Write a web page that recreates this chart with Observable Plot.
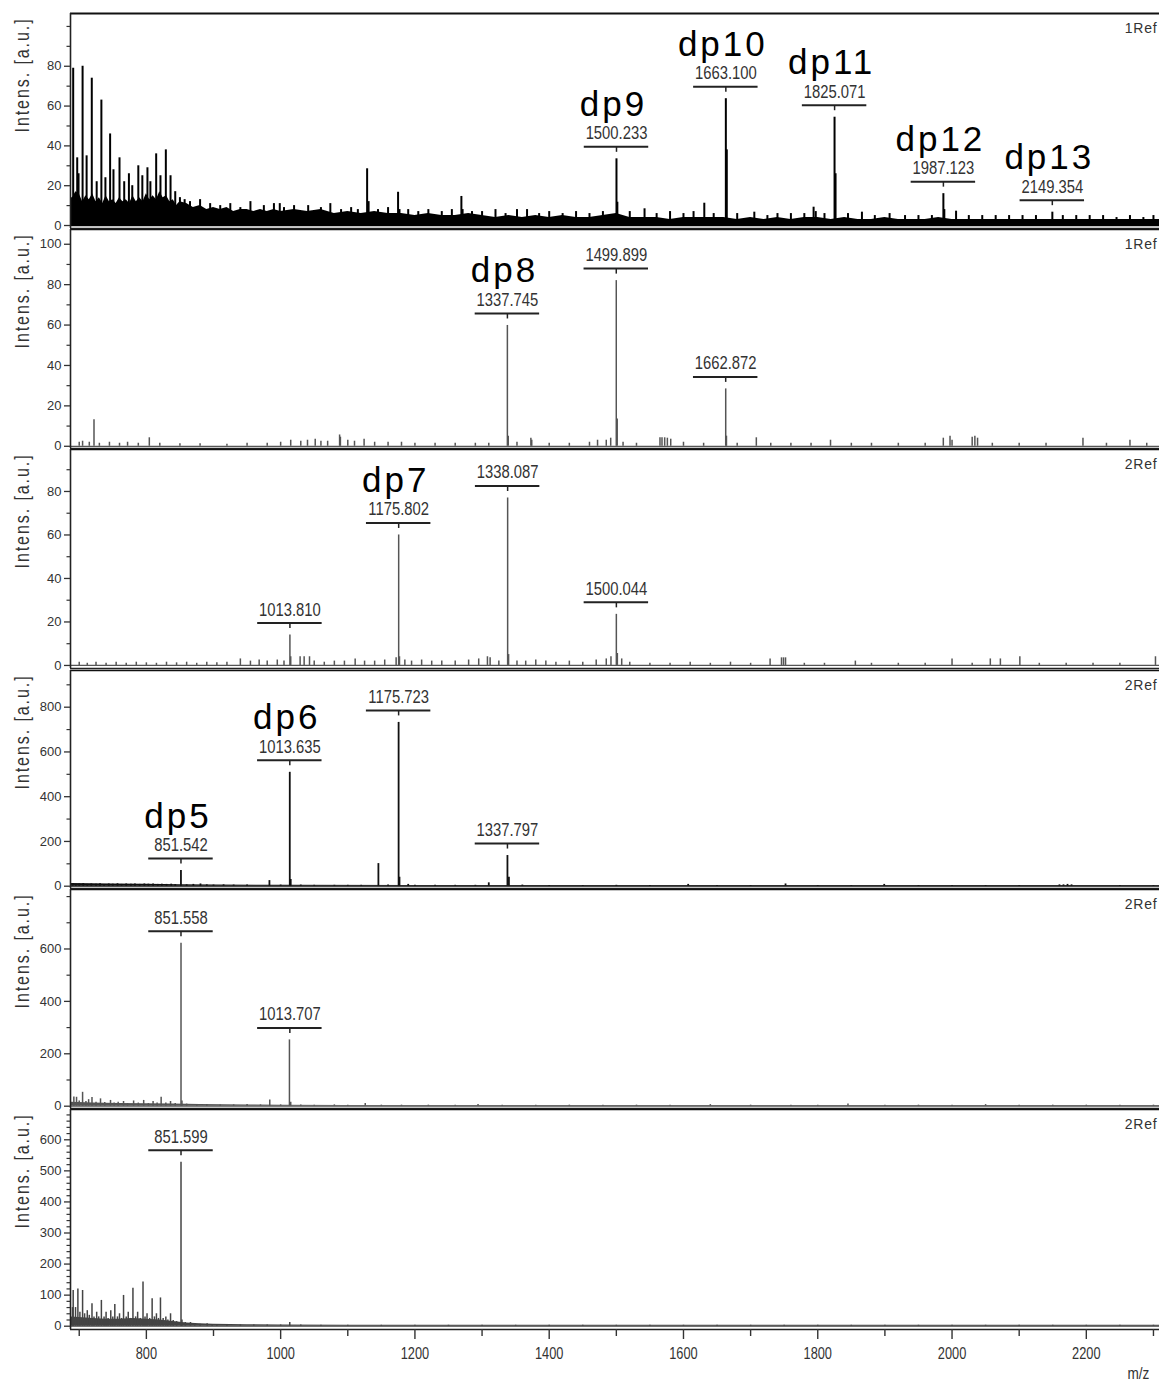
<!DOCTYPE html>
<html><head><meta charset="utf-8">
<script src="https://cdn.jsdelivr.net/npm/d3@7"></script>
<script src="https://cdn.jsdelivr.net/npm/@observablehq/plot@0.6"></script>
<style>
html,body{margin:0;padding:0;background:#fff;}
#chart{position:relative;width:1159px;height:1385px;overflow:hidden;background:#fff;}
#chart svg{position:absolute;left:0;overflow:visible;background:transparent;}
g[aria-label="text"][font-size="35"]{letter-spacing:3px;}
g[aria-label="text"][font-size="20"]{letter-spacing:2.4px;}
g[aria-label="text"][font-size="14"]{letter-spacing:0.8px;}
</style></head><body><div id="chart"></div><script>
// ---------- data ----------
const xDomain = [687, 2309];
const xMajorTicks = [800, 1000, 1200, 1400, 1600, 1800, 2000, 2200];
const xMinorTicks = [700, 900, 1100, 1300, 1500, 1700, 1900, 2100, 2300];
const refNames = ["1Ref", "1Ref", "2Ref", "2Ref", "2Ref", "2Ref"];
const yDomains = [[-1.5, 106.5], [-1.1, 107.3], [-1.4, 99.3], [-10.3, 964], [-8.8, 827], [-10.6, 697.5]];
const yMajorTicks = [
  [0, 20, 40, 60, 80],
  [0, 20, 40, 60, 80, 100],
  [0, 20, 40, 60, 80],
  [0, 200, 400, 600, 800],
  [0, 200, 400, 600],
  [0, 100, 200, 300, 400, 500, 600]
];
const yMinorTicks = [
  [10, 30, 50, 70, 90, 100],
  [10, 30, 50, 70, 90],
  [10, 30, 50, 70, 90],
  [100, 300, 500, 700, 900],
  [100, 300, 500, 700, 800],
  [20, 40, 60, 80, 120, 140, 160, 180, 220, 240, 260, 280, 320, 340, 360, 380, 420, 440, 460, 480, 520, 540, 560, 580, 620, 640, 660, 680]
];

// noise envelopes [m/z, intensity]
const p1Band = [[688,14],[690,14],[695,17],[700,16],[705,12],[710,15],[715,13],[720,16],[725,12],[730,14],[735,11],[740,15],[745,12],[750,13],[755,11],[760,14],[765,12],[770,13],[775,11],[780,15],[785,12],[790,14],[795,12],[800,16],[805,13],[810,15],[815,13],[820,17],[825,14],[830,15],[835,12],[840,13],[845,10],[850,12],[860,11],[870,9],[880,10],[890,8],[900,9],[910,8],[920,9],[930,7],[940,8],[950,8],[960,7],[970,8],[980,7],[990,8],[1000,7],[1020,8],[1040,7],[1060,8],[1080,6],[1100,7],[1120,6],[1140,7],[1160,6],[1180,6],[1200,5],[1220,6],[1240,5],[1260,5],[1280,6],[1300,5],[1320,4],[1340,5],[1360,4],[1380,5],[1400,4],[1420,5],[1440,4],[1460,4],[1480,5],[1500,6],[1520,4],[1540,4],[1560,4],[1580,3],[1600,4],[1620,4],[1640,4],[1660,4],[1680,3],[1700,4],[1720,3],[1740,4],[1760,3],[1780,4],[1800,4],[1820,3],[1840,4],[1860,3],[1880,3],[1900,4],[1920,3],[1940,3],[1960,3],[1980,4],[2000,3],[2020,3],[2040,3],[2060,3],[2080,3],[2100,3],[2120,3],[2140,3],[2160,3],[2180,3],[2200,3],[2220,3],[2240,3],[2260,3],[2280,3],[2309,3]];
const p4Band = [[688,12],[750,10],[800,9],[850,7],[900,5],[1000,4],[1200,3],[2309,3]];
const p5Band = [[688,15],[720,12],[760,10],[800,9],[840,8],[880,6],[950,5],[1000,4],[1100,3],[2309,3]];
const p6Band = [[688,30],[700,28],[720,25],[740,22],[760,22],[780,25],[800,22],[820,20],[840,15],[860,10],[880,8],[900,6],[950,5],[1000,4],[1100,3],[2309,3]];

// peaks [m/z, intensity]
const p1Peaks = [[691,79],[697,34],[699,26],[705,80],[711,35],[718.7,74],[726,22],[733,63],[739,24],[746,46],[751,28],[760,34],[767,22],[774,26],[779,20],[788,30],[794,25],[801.6,29],[806,22],[814.6,36],[821,25],[829,38],[836,25],[843,17],[850,14],[857,13],
  [865,12],[880,13],[895,11],[910,10],[925,11],[940,9],[955,12],[975,10],[990,11],[998.7,11],[1005,9],[1020,10],[1041,10],[1060,9],[1074,11],[1090,8],[1105,9],[1115,8],[1128.8,28.5],[1131,12],[1145,8],[1160,9],[1174.9,16.7],[1177,8],[1190,8],[1205,7],[1220,8],[1240,7],[1255,8],[1269.2,14.6],[1271,8],[1285,7],[1300,7],[1320,8],[1335,6],[1352,8],[1367,8],[1385,6],[1400,7],[1420,6],[1440,7],[1460,6],[1480,7],
  [1500.2,33.5],[1501.5,11.7],[1520,7],[1542,8.4],[1560,6],[1580,7],[1600,6],[1615,7],[1631,11.2],[1645,6],[1663.1,63.7],[1664.5,38],[1680,6],[1705.5,6.7],[1725,5],[1740,6],[1760,6],[1780,6],[1793.8,9.2],[1797,7],[1810,6],[1825,54.4],[1826.5,26],[1845,6],[1865.8,6.7],[1885,5],[1907,6],[1930,5],[1950,5],[1970,5],[1987.1,16],[1988.5,8],[2006,7.2],[2025,5],[2045,5],[2065,5],[2085,5],[2105,5],[2125,5],[2149.4,6.7],[2165,5],[2185,5],[2205,5],[2225,5],[2245,4],[2265,5],[2285,4],[2300,5]];
const p2Peaks = [[700,2],[705,2.5],[715,2],[722,13.1],[730,1.5],[745,2],[760,1.5],[772,2],[788,1.5],[804.4,4.2],[820,1.5],[850,1.2],[880,1.2],[920,1],[950,1.5],[980,1.5],[1000,2],[1015,3],[1030,2.5],[1040,3],[1051.5,3.5],[1060,2.5],[1070,2.5],[1087.8,5.6],[1089,4.5],[1100,3],[1110,2.5],[1124.3,3.5],[1140,2],[1160,2],[1180,2],[1200,1.5],[1230,1.5],[1260,1.5],[1290,1.5],[1310,1.5],[1337.7,59.8],[1339,5],[1352,2],[1372.7,4],[1374,3],[1400,1.5],[1430,1.5],[1460,2],[1472,3],[1485,3],[1491.6,4],[1499.9,82],[1501.3,13.5],[1510,2],[1530,1.5],[1565,4.2],[1568,4.2],[1572,4.2],[1576,4],[1581,3.5],[1600,2],[1630,1.5],[1662.9,28.4],[1664,5],[1680,1.5],[1708.5,4.2],[1730,1.5],[1760,1.5],[1790,1.5],[1819,3],[1850,1.5],[1880,1.5],[1920,1.5],[1960,1.5],[1987,4],[1997,5],[2000,3],[2030,4.5],[2034,5],[2038,4],[2060,1.5],[2100,1.5],[2140,1.5],[2195,4],[2230,1.5],[2265,3],[2290,1.5]];
const p3Peaks = [[700,1.5],[712,1],[725,1.5],[740,1],[755,1.5],[770,1],[785,1.5],[800,1.2],[815,1],[830,1.5],[845,1.2],[860,1.5],[875,1],[890,1.5],[905,1.2],[920,1.5],[940,3],[955,2],[968,2.5],[980,2],[995,2.5],[1005,2],[1013.8,14],[1015,4],[1029,4],[1035,4],[1043,4],[1050,2],[1065,1.5],[1080,2],[1095,2],[1111,3],[1125,2],[1140,2],[1155,2.5],[1172,3.5],[1175.8,60],[1177,4],[1185,2.5],[1195,2],[1210,2.5],[1225,2],[1240,2],[1260,2],[1280,2.5],[1295,3],[1308,4],[1312,3.5],[1325,2],[1338.1,77],[1339.5,5],[1352,2],[1365,2],[1380,2.5],[1395,2],[1410,1.5],[1430,2],[1450,1.5],[1470,2.5],[1485,3],[1492,4],[1500,23.5],[1501.5,5.5],[1508,3],[1520,1.5],[1550,1],[1580,1],[1610,1.5],[1640,1],[1670,1.5],[1700,1],[1729,3],[1746,3.5],[1749,3.5],[1752,3.5],[1780,1],[1810,1],[1856,2],[1880,1],[1920,1],[1960,1],[2000,3],[2030,1],[2057,3],[2072,3],[2101,4],[2130,1],[2170,1],[2210,1],[2250,1],[2303,4]];
const p4Peaks = [[690,12],[695,8],[700,10],[706,12],[712,8],[718,10],[725,9],[731,11],[737,8],[744,10],[750,9],[757,11],[763,8],[770,10],[777,9],[783,10],[790,8],[797,10],[803,9],[810,10],[817,8],[823,9],[830,8],[837,9],[843,7],[851.5,70],[860,6],[870,8],[880.6,10],[890,6],[900,5],[915,6],[930,5],[950,5],[983.3,25],[1000,5],[1013.6,509],[1015,30],[1030,5],[1050,4],[1080,4],[1100,4],[1120,4],[1145.6,101],[1160,5],[1175.7,732],[1177,40],[1190,8],[1200,4],[1230,4],[1260,4],[1290,4],[1310,15],[1337.8,137],[1340,40],[1360,5],[1400,3],[1450,3],[1500,4],[1550,3],[1607,8],[1650,3],[1700,3],[1752,10],[1800,3],[1850,3],[1899,8],[1950,3],[2000,3],[2050,3],[2100,3],[2160,6],[2166,6],[2172,8],[2178,6],[2250,3],[2300,3]];
const p5Peaks = [[692,35],[696,34],[700,20],[705,53],[710,18],[714,25],[719,33],[725,15],[731.7,28],[738,14],[746.6,22],[752,12],[758,15],[766,18],[772,10],[781,20],[788,12],[796,22],[803,10],[810,18],[816,12],[822,34],[829,12],[836,18],[843,10],[851.6,622],[853,20],[860,8],[875,6],[890,6],[910,5],[930,5],[950,6],[970,5],[983.8,24],[1000,5],[1013.1,253],[1015,15],[1030,5],[1050,4],[1080,5],[1100,4],[1126,10],[1150,4],[1180,4],[1220,4],[1260,4],[1294,6],[1330,4],[1380,4],[1430,4],[1480,4],[1530,4],[1580,4],[1640,6],[1700,4],[1760,4],[1800,4],[1845,8],[1900,4],[1950,4],[2000,4],[2050,6],[2100,4],[2150,4],[2200,4],[2250,4],[2300,4]];
const p6Peaks = [[690,60],[691,115],[694.5,60],[698,120],[701,45],[705,115],[708,40],[712,50],[715,35],[719,72],[722,30],[726,45],[729,30],[733,83],[737,30],[740,45],[743,25],[747,50],[750,30],[753,70],[757,30],[760,40],[763,25],[766,99],[770,30],[773,45],[776,25],[780,122],[784,30],[787,45],[791,25],[795,142],[798,30],[801,40],[805,25],[808.6,88],[812,30],[815,40],[818,25],[821,91],[825,25],[829,30],[832,20],[836,40],[840,18],[845,15],[851.6,528],[853,20],[858,12],[865.7,12],[872,8],[880,6],[890.5,8],[898,5],[905,5],[920,4],[940,4],[960,4],[980,4],[1000,4],[1013.6,12],[1030,4],[1060,3],[1100,3],[1150,3],[1200,3],[1250,3],[1300,3],[1350,3],[1400,3],[1450,3],[1500,3],[1550,3],[1600,3],[1650,3],[1700,3],[1750,3],[1800,3],[1850,3],[1900,3],[1950,3],[2000,3],[2050,3],[2100,3],[2150,3],[2200,3],[2250,3],[2300,3]];

// annotated peaks
const p1Labels = [
  {mz: 1500.233, y: 33.5, num: "1500.233", dp: "dp9"},
  {mz: 1663.100, y: 63.7, num: "1663.100", dp: "dp10"},
  {mz: 1825.071, y: 54.4, num: "1825.071", dp: "dp11"},
  {mz: 1987.123, y: 16, num: "1987.123", dp: "dp12"},
  {mz: 2149.354, y: 6.7, num: "2149.354", dp: "dp13"}
];
const p2Labels = [
  {mz: 1337.745, y: 59.8, num: "1337.745", dp: "dp8"},
  {mz: 1499.899, y: 82, num: "1499.899", dp: ""},
  {mz: 1662.872, y: 28.4, num: "1662.872", dp: ""}
];
const p3Labels = [
  {mz: 1013.810, y: 14, num: "1013.810", dp: ""},
  {mz: 1175.802, y: 60, num: "1175.802", dp: "dp7"},
  {mz: 1338.087, y: 77, num: "1338.087", dp: ""},
  {mz: 1500.044, y: 23.5, num: "1500.044", dp: ""}
];
const p4Labels = [
  {mz: 851.542, y: 70, num: "851.542", dp: "dp5"},
  {mz: 1013.635, y: 509, num: "1013.635", dp: "dp6"},
  {mz: 1175.723, y: 732, num: "1175.723", dp: ""},
  {mz: 1337.797, y: 137, num: "1337.797", dp: ""}
];
const p5Labels = [
  {mz: 851.558, y: 622, num: "851.558", dp: ""},
  {mz: 1013.707, y: 253, num: "1013.707", dp: ""}
];
const p6Labels = [
  {mz: 851.599, y: 528, num: "851.599", dp: ""}
];

const yTitle = "Intens. [a.u.]";
const xTitle = "m/z";

// ---------- layout / style ----------
const bands = [p1Band, null, null, p4Band, p5Band, p6Band];
const peaks = [p1Peaks, p2Peaks, p3Peaks, p4Peaks, p5Peaks, p6Peaks];
const labels = [p1Labels, p2Labels, p3Labels, p4Labels, p5Labels, p6Labels];
const layout = [
  {top: 13, bottom: 228, color: "#000", sw: 2},
  {top: 229, bottom: 448, color: "#555", sw: 1.5},
  {top: 449, bottom: 668, color: "#555", sw: 1.5},
  {top: 670, bottom: 888, color: "#111", sw: 1.8},
  {top: 889, bottom: 1108, color: "#555", sw: 1.5},
  {top: 1109, bottom: 1329, color: "#444", sw: 1.5}
];
const SANS = "'Liberation Sans',Arial,Helvetica,sans-serif";
// font sizes that get a horizontally condensed rendering (narrow face look)
const condensed = {"19": 0.78, "16": 0.8, "20": 0.8, "17": 0.8};
const tickSym = {draw(ctx) { ctx.moveTo(0, 0); ctx.lineTo(0, 5); }};

const chart = document.getElementById("chart");
layout.forEach((L, i) => {
  const last = i === layout.length - 1;
  const mt = 3, mb = last ? 56 : 3;
  const h = (L.bottom - L.top) + mt + mb;
  const yd = yDomains[i];
  const marks = [];
  if (bands[i]) marks.push(Plot.areaY(bands[i], {x: d => d[0], y: d => d[1], fill: L.color, curve: "linear"}));
  marks.push(Plot.ruleY([0], {stroke: L.color, strokeWidth: 1.3}));
  marks.push(Plot.ruleX(peaks[i], {x: d => d[0], y1: 0, y2: d => d[1], stroke: L.color, strokeWidth: L.sw}));
  // frame
  marks.push(Plot.ruleY([yd[1]], {stroke: "#111", strokeWidth: i === 0 ? 2 : 1.6}));
  marks.push(Plot.ruleY([yd[0]], {stroke: "#222", strokeWidth: 1.6}));
  marks.push(Plot.ruleX([xDomain[0]], {stroke: "#222", strokeWidth: 1.6}));
  // y axis
  marks.push(Plot.axisY({ticks: yMajorTicks[i], tickFormat: "d", tickSize: 6, tickPadding: 3, label: null,
    fontSize: 13, fontFamily: SANS, fill: "#333", stroke: "#333", strokeWidth: 1.3}));
  marks.push(Plot.axisY({ticks: yMinorTicks[i], tickFormat: () => "", tickSize: 3.5, label: null,
    stroke: "#333", strokeWidth: 1.2}));
  // y title
  marks.push(Plot.text([yTitle], {frameAnchor: "top-left", rotate: -90, textAnchor: "end", dx: -56, dy: 4,
    fontSize: 20, fontFamily: SANS, fill: "#333"}));
  // reference tag
  marks.push(Plot.text([refNames[i]], {frameAnchor: "top-right", textAnchor: "end", lineAnchor: "bottom", dx: -2, dy: 19,
    fontSize: 14, fontFamily: SANS, fill: "#333"}));
  // peak annotations
  const lab = labels[i];
  marks.push(Plot.ruleY(lab, {y: "y", x1: d => d.mz - 48, x2: d => d.mz + 48, dy: -12, stroke: "#222", strokeWidth: 2}));
  marks.push(Plot.dot(lab, {x: "mz", y: "y", dy: -12, symbol: tickSym, fill: "none", stroke: "#222", strokeWidth: 1.5}));
  marks.push(Plot.text(lab, {x: "mz", y: "y", text: "num", dy: -19.5, lineAnchor: "bottom",
    fontSize: 19, fontFamily: SANS, fill: "#333"}));
  marks.push(Plot.text(lab.filter(d => d.dp), {x: "mz", y: "y", text: "dp", dy: -43, dx: -3, lineAnchor: "bottom",
    fontSize: 35, fontFamily: SANS, fill: "#000"}));
  if (last) {
    marks.push(Plot.axisX({ticks: xMajorTicks, tickFormat: "d", tickSize: 10, tickPadding: 8, label: null, anchor: "bottom",
      fontSize: 16, fontFamily: SANS, fill: "#333", stroke: "#333", strokeWidth: 1.4}));
    marks.push(Plot.axisX({ticks: xMinorTicks, tickFormat: () => "", tickSize: 7, label: null, anchor: "bottom",
      stroke: "#333", strokeWidth: 1.4}));
    marks.push(Plot.text([xTitle], {frameAnchor: "bottom-right", textAnchor: "start", lineAnchor: "bottom", dx: -32, dy: 49,
      fontSize: 17, fontFamily: SANS, fill: "#333"}));
  }
  const svg = Plot.plot({
    width: 1159, height: h,
    marginLeft: 70, marginRight: 0, marginTop: mt, marginBottom: mb,
    x: {domain: xDomain, axis: null},
    y: {domain: yd, axis: null},
    style: {background: "transparent", overflow: "visible"},
    marks
  });
  // condensed look for the narrow-face texts: squeeze glyphs horizontally about their own anchor
  Object.entries(condensed).forEach(([fs, k]) => {
    d3.select(svg).selectAll(`g[font-size="${fs}"] text`).each(function() {
      const t = this.getAttribute("transform") || "";
      this.setAttribute("transform", `${t} scale(${k},1)`);
    });
  });
  svg.style.top = (L.top - mt) + "px";
  chart.appendChild(svg);
});
</script></body></html>
